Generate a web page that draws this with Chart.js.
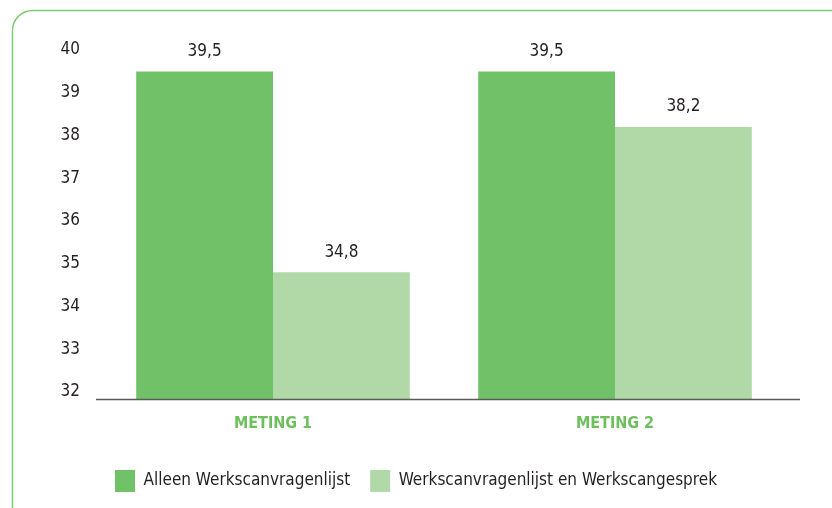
<!DOCTYPE html>
<html>
<head>
<meta charset="utf-8">
<script src="https://cdn.jsdelivr.net/npm/chart.js@4/dist/chart.umd.min.js"></script>
<style>
  html, body { margin: 0; padding: 0; background: #fff; }
  #wrap { width: 832px; height: 508px; position: relative; }
</style>
</head>
<body>
<div id="wrap"><canvas id="chart"></canvas></div>
<script>
'use strict';

/// data
const categories = ['METING 1', 'METING 2'];
const seriesNames = ['Alleen Werkscanvragenlijst', 'Werkscanvragenlijst en Werkscangesprek'];
const alleenValues = [39.5, 39.5];
const gesprekValues = [34.8, 38.2];
const yTicks = [32, 33, 34, 35, 36, 37, 38, 39, 40];

/// styles
const darkGreen = '#71c168';
const lightGreen = '#b1d9a7';
const frameGreen = '#80c970';
const textColor = '#231f20';
const fontFamily = '"Liberation Sans Narrow", "DejaVu Sans Condensed", "Open Sans", sans-serif';

// rounded frame round the chart (only top and left sides show)
const framePlugin = {
  id: 'frame',
  beforeDraw(chart) {
    const ctx = chart.ctx;
    const x = 12.5, y = 10.5, r = 20;
    ctx.save();
    ctx.strokeStyle = frameGreen;
    ctx.lineWidth = 1.5;
    ctx.beginPath();
    ctx.moveTo(x, chart.height + 5);
    ctx.lineTo(x, y + r);
    ctx.arcTo(x, y, x + r, y, r);
    ctx.lineTo(chart.width + 5, y);
    ctx.stroke();
    ctx.restore();
  },
};

// base line and value labels
const labelPlugin = {
  id: 'valueLabels',
  afterDatasetsDraw(chart) {
    const ctx = chart.ctx;
    const area = chart.chartArea;
    ctx.save();
    ctx.strokeStyle = '#5a5a5a';
    ctx.lineWidth = 1.5;
    ctx.beginPath();
    ctx.moveTo(area.left - 6, area.bottom + 0.5);
    ctx.lineTo(area.right + 14, area.bottom + 0.5);
    ctx.stroke();

    ctx.fillStyle = textColor;
    ctx.font = '17px ' + fontFamily;
    ctx.textAlign = 'center';
    ctx.textBaseline = 'middle';
    chart.data.datasets.forEach((ds, i) => {
      chart.getDatasetMeta(i).data.forEach((bar, j) => {
        const txt = ds.data[j].toFixed(1).replace('.', ',');
        ctx.fillText(txt, bar.x, bar.y - 20);
      });
    });
    ctx.restore();
  },
};

const chartData = {
  labels: categories,
  datasets: [
    {
      label: seriesNames[0],
      data: alleenValues,
      backgroundColor: darkGreen,
      categoryPercentage: 0.8,
      barPercentage: 1.0,
    },
    {
      label: seriesNames[1],
      data: gesprekValues,
      backgroundColor: lightGreen,
      categoryPercentage: 0.8,
      barPercentage: 1.0,
    },
  ],
};

const config = {
  type: 'bar',
  data: chartData,
  options: {
    responsive: true,
    maintainAspectRatio: false,
    animation: false,
    layout: { padding: { left: 0, right: 0, top: 45, bottom: 6 } },
    scales: {
      x: {
        grid: { display: false, drawTicks: false },
        border: { display: false },
        ticks: {
          color: '#6cbf5c',
          font: { family: fontFamily, size: 16, weight: 'bold' },
          padding: 15,
        },
        afterFit(scale) { scale.height = 51; },
      },
      y: {
        min: 32 - 7 / 42.75,
        max: 40 + 5 / 42.75,
        grid: { display: false, drawTicks: false },
        border: { display: false },
        afterBuildTicks(scale) {
          scale.ticks = yTicks.map((v) => ({ value: v }));
        },
        ticks: {
          color: textColor,
          font: { family: fontFamily, size: 17 },
          padding: 22,
          callback: (v) => String(v),
        },
        afterFit(scale) { scale.width = 102; },
      },
      // empty right axis, only keeps space at the right side
      yRight: {
        position: 'right',
        grid: { display: false, drawTicks: false },
        border: { display: false },
        ticks: { display: false },
        afterFit(scale) { scale.width = 46; },
      },
    },
    plugins: {
      legend: {
        position: 'bottom',
        labels: {
          color: textColor,
          font: { family: fontFamily, size: 17 },
          boxWidth: 20,
          boxHeight: 22,
          padding: 20,
        },
      },
      tooltip: { enabled: false },
    },
  },
  plugins: [framePlugin, labelPlugin],
};

const chart = new Chart(document.getElementById('chart'), config);
</script>
</body>
</html>
